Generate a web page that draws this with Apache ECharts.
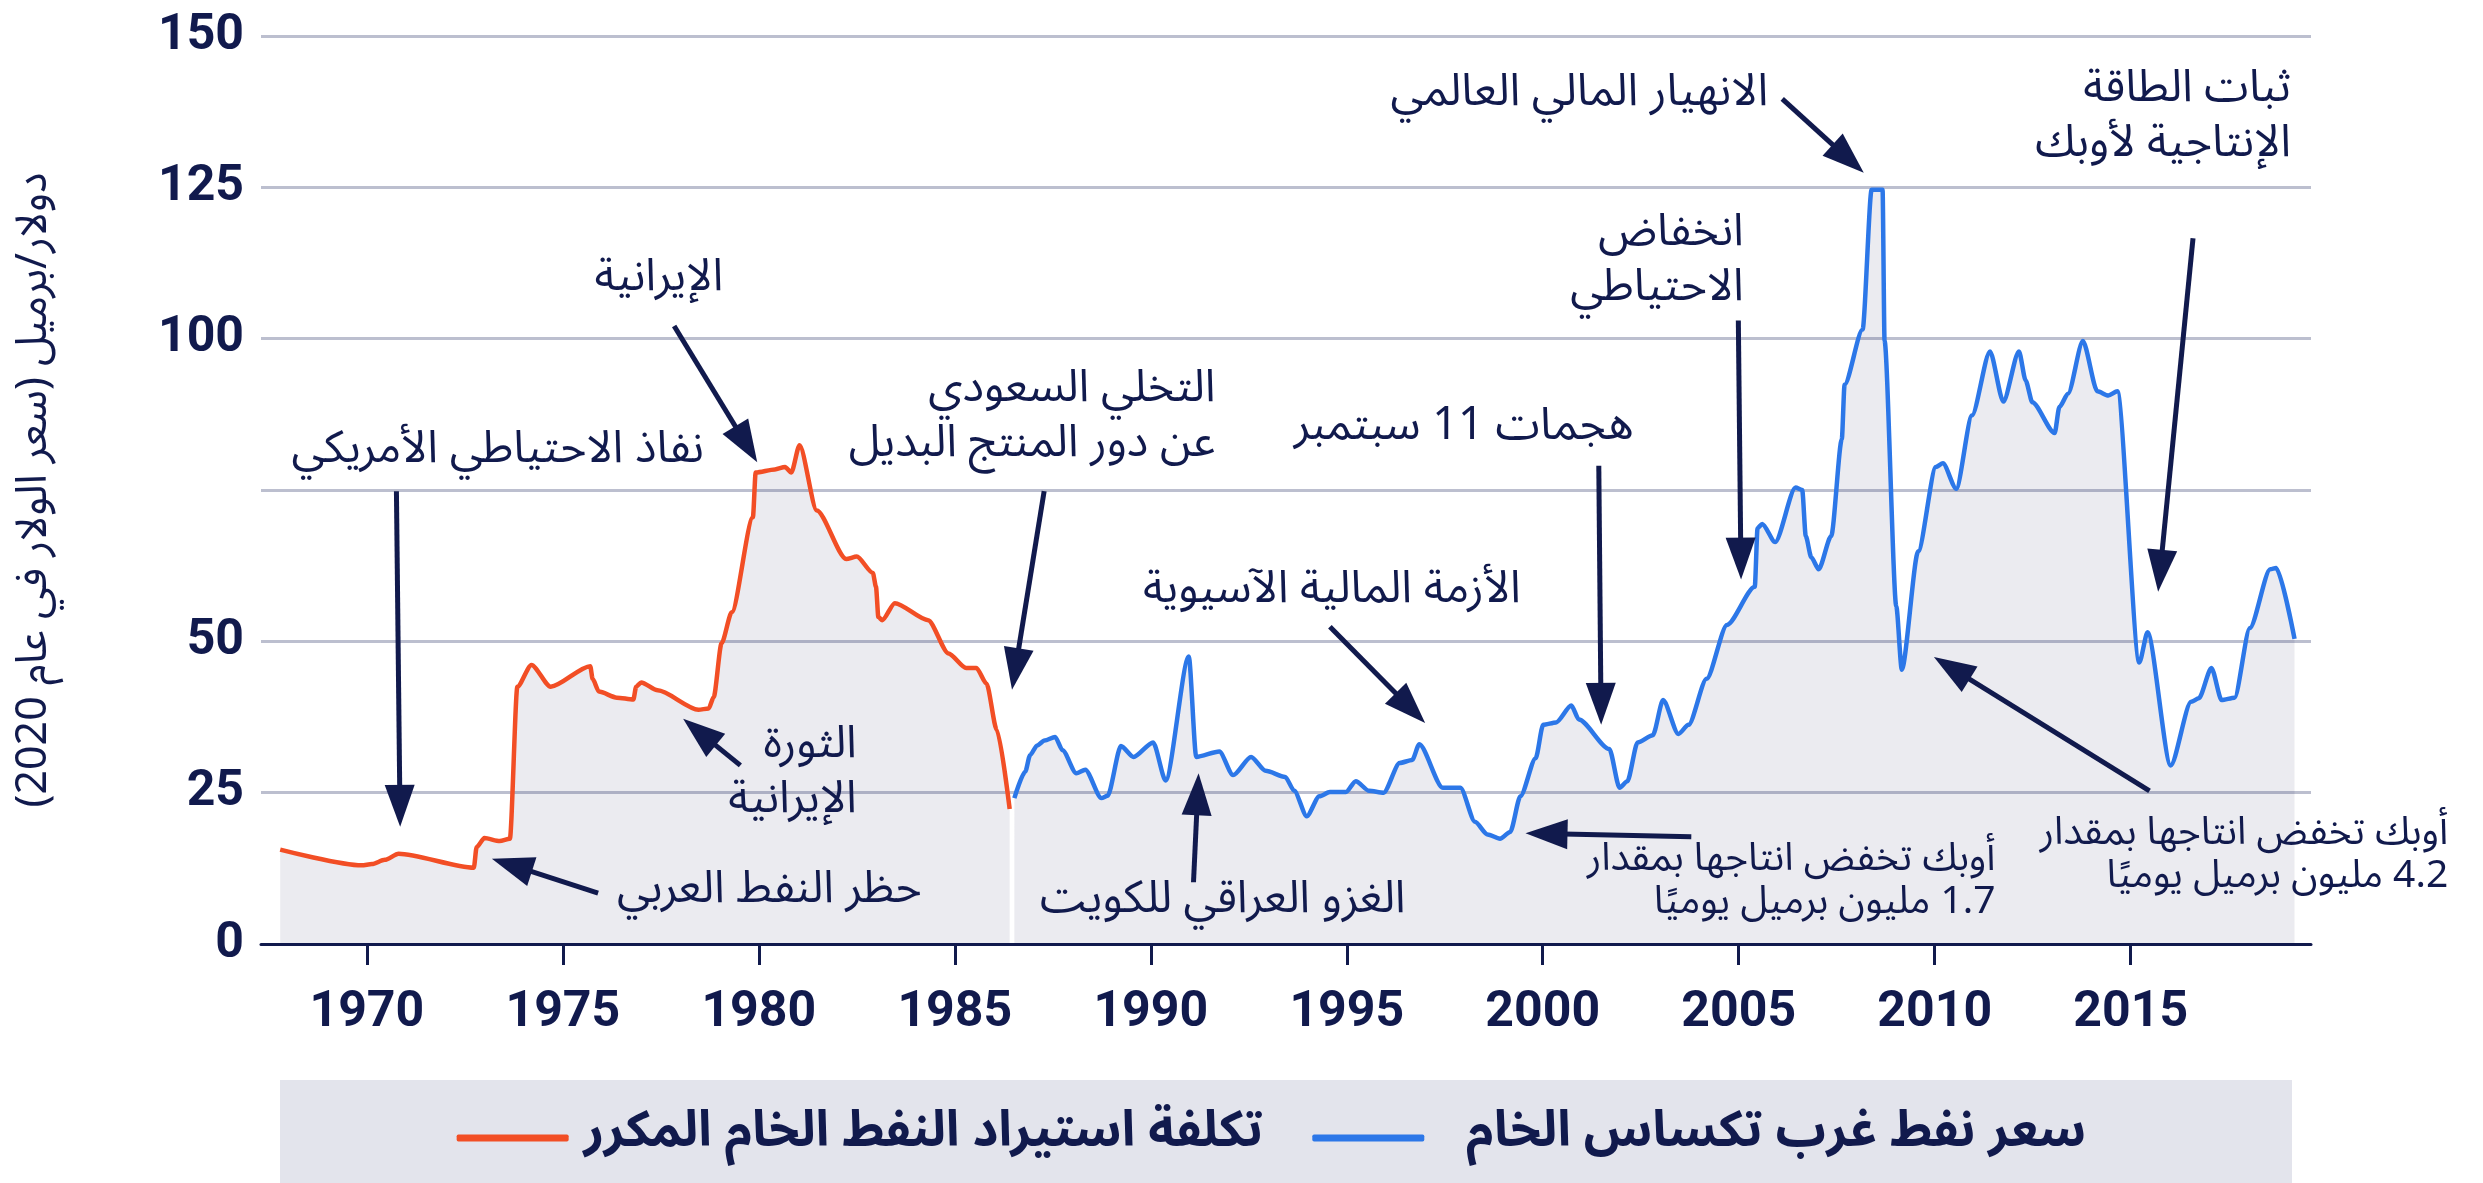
<!DOCTYPE html>
<html>
<head>
<meta charset="utf-8">
<script src="https://cdn.jsdelivr.net/npm/echarts@6/dist/echarts.min.js"></script>
<style>
html,body{margin:0;padding:0;background:#ffffff;}
#chart{width:2483px;height:1183px;}
</style>
</head>
<body>
<div id="chart" dir="rtl"></div>
<script>
// ---------- DATA ----------
const importYears = [1967.79, 1969.87, 1970.13, 1970.46, 1970.81, 1972.73, 1972.8, 1973.0, 1973.39, 1973.65,
  1973.84, 1974.2, 1974.69, 1975.7, 1975.76, 1975.92, 1976.38, 1976.8, 1976.87, 1977.0, 1977.42,
  1978.46, 1978.72, 1978.85, 1979.05, 1979.31, 1979.85, 1979.92, 1980.41, 1980.67, 1980.83, 1981.04,
  1981.48, 1982.23, 1982.5, 1982.91, 1982.99, 1983.05, 1983.15, 1983.47, 1984.32, 1984.84, 1985.29,
  1985.55, 1985.81, 1986.07, 1986.4];
const importValues = [15.6, 13.0, 13.2, 13.9, 14.9, 12.6, 16.0, 17.5, 17.0, 17.4,
  42.5, 46.1, 42.5, 45.9, 43.8, 41.7, 40.7, 40.4, 42.5, 43.2, 41.9,
  38.7, 38.9, 40.8, 49.7, 54.8, 70.5, 77.9, 78.4, 78.8, 77.9, 82.4,
  71.6, 63.6, 64.0, 61.3, 59.0, 54.0, 53.5, 56.3, 53.5, 48.0, 45.6,
  45.6, 43.0, 35.4, 22.3];

const wtiYears = [1986.52, 1986.8, 1986.92, 1987.1, 1987.29, 1987.56, 1987.75, 1988.1, 1988.33, 1988.74,
  1988.9, 1989.24, 1989.56, 1990.06, 1990.38, 1990.97, 1991.16, 1991.75, 1992.1, 1992.56,
  1992.93, 1993.43, 1993.66, 1993.98, 1994.3, 1994.57, 1994.98, 1995.23, 1995.57, 1995.94,
  1996.35, 1996.67, 1996.85, 1997.45, 1997.9, 1998.27, 1998.59, 1998.91, 1999.17, 1999.43,
  1999.82, 2000.01, 2000.34, 2000.73, 2000.92, 2001.7, 2001.96, 2002.16, 2002.42, 2002.81,
  2003.07, 2003.46, 2003.72, 2004.18, 2004.7, 2005.41, 2005.48, 2005.6, 2005.93, 2006.45,
  2006.62, 2006.71, 2006.85, 2007.04, 2007.36, 2007.63, 2007.7, 2008.16, 2008.39, 2008.67,
  2008.72, 2009.02, 2009.16, 2009.58, 2010.03, 2010.21, 2010.55, 2010.95, 2011.41, 2011.75,
  2012.15, 2012.32, 2012.49, 2013.06, 2013.18, 2013.4, 2013.78, 2014.15, 2014.43, 2014.66,
  2015.22, 2015.43, 2016.02, 2016.54, 2016.74, 2017.06, 2017.32, 2017.65, 2018.04, 2018.56,
  2018.71, 2019.18];
const wtiValues = [24.1, 28.5, 31.2, 32.8, 33.6, 34.2, 32.0, 28.2, 28.8, 24.1,
  24.5, 32.7, 30.9, 33.3, 27.0, 47.5, 30.9, 31.8, 27.9, 30.9,
  28.6, 27.6, 25.3, 21.1, 24.4, 25.1, 25.1, 26.9, 25.3, 25.0,
  29.9, 30.4, 33.0, 25.8, 25.8, 20.2, 18.1, 17.4, 18.5, 24.4,
  30.7, 36.2, 36.6, 39.4, 37.1, 32.2, 25.8, 26.9, 33.3, 34.5,
  40.3, 34.7, 36.2, 43.8, 52.7, 59.0, 68.7, 69.4, 66.4, 75.4,
  75.0, 67.4, 63.9, 61.9, 67.4, 83.4, 92.4, 101.5, 124.6, 124.6,
  99.7, 55.8, 45.3, 64.9, 78.8, 79.4, 75.2, 87.3, 97.9, 89.6,
  97.9, 93.1, 89.5, 84.4, 88.7, 90.9, 99.6, 91.3, 90.6, 91.3,
  46.5, 51.5, 29.5, 40.0, 40.6, 45.6, 40.3, 40.7, 52.2, 61.9,
  62.1, 50.4];

const xTickYears = [1970, 1975, 1980, 1985, 1990, 1995, 2000, 2005, 2010, 2015];
const yTickLabels = ['0', '25', '50', '', '100', '125', '150'];
const seriesNames = ['تكلفة استيراد النفط الخام المكرر', 'سعر نفط غرب تكساس الخام'];
const yAxisTitle = 'دولار/برميل (سعر الولار في عام 2020)';

// annotation texts, anchored at [year, value] (right edge / middle), arrows from -> to in data space
const annotationTexts = [
  'نفاذ الاحتياطي الأمريكي', 'الإيرانية', 'الثورة\nالإيرانية', 'حظر النفط العربي',
  'التخلي السعودي\nعن دور المنتج البديل', 'الغزو العراقي للكويت', 'الأزمة المالية الآسيوية',
  'هجمات 11 سبتمبر', 'أوبك تخفض انتاجها بمقدار\n1.7 مليون برميل يوميًا', 'انخفاض\nالاحتياطي',
  'الانهيار المالي العالمي', 'ثبات الطاقة\nالإنتاجية لأوبك', 'أوبك تخفض انتاجها بمقدار\n4.2 مليون برميل يوميًا'
];
const annotationAnchors = [
  [1978.6, 80.8], [1979.09, 109.2], [1982.5, 27.4], [1984.16, 8.1],
  [1991.65, 86.2], [1996.5, 6.4], [1999.44, 57.7],
  [2002.32, 84.6], [2011.55, 9.6], [2005.13, 112.0],
  [2005.75, 139.8], [2019.09, 135.8], [2023.1, 14.0]
];
const arrowStarts = [
  [1970.755, 74.8], [1977.84, 102.1], [1979.53, 29.5], [1975.9, 8.4],
  [1987.28, 74.8], [1991.09, 10.2], [1994.57, 52.4],
  [2001.43, 79.0], [2003.79, 17.7], [2004.99, 103.0],
  [2006.11, 139.6], [2016.59, 116.6], [2015.48, 25.3]
];
const arrowEnds = [
  [1970.85, 19.35], [1979.96, 79.6], [1978.07, 37.2], [1973.19, 14.1],
  [1986.46, 42.0], [1991.22, 28.2], [1997.0, 36.5],
  [2001.49, 36.2], [1999.56, 18.3], [2005.06, 60.2],
  [2008.19, 127.4], [2015.7, 58.2], [2009.98, 47.4]
];
const smallAnnotation = [false, false, false, false, false, false, false, false, true, false, false, false, true];

// ---------- STYLE ----------
const NAVY = '#111a4d';
const RED = '#f24e25';
const BLUE = '#2c77e8';
const AREA = 'rgba(20,27,80,0.12)';
const NUM_FONT = 'Roboto, "Liberation Sans", sans-serif';
const AR_FONT = '"Noto Sans Arabic", "Noto Naskh Arabic", "DejaVu Sans", sans-serif';

const chart = echarts.init(document.getElementById('chart'), null, {renderer: 'canvas'});

const zip = (xs, ys) => xs.map((x, i) => [x, ys[i]]);

chart.setOption({
  animation: false,
  backgroundColor: '#ffffff',
  grid: {left: 261, right: 172, top: 36, bottom: 239, containLabel: false},
  xAxis: {
    type: 'value',
    min: 1967.3,
    max: 2019.6,
    axisLine: {show: true, onZero: false, lineStyle: {color: NAVY, width: 3}},
    axisTick: {show: true, customValues: xTickYears, length: 21, lineStyle: {color: NAVY, width: 3}},
    axisLabel: {
      show: true, customValues: xTickYears, margin: 44,
      color: NAVY, fontSize: 50, fontWeight: 'bold', fontFamily: NUM_FONT,
      formatter: (v) => String(Math.round(v))
    },
    splitLine: {show: false}
  },
  yAxis: {
    type: 'value',
    min: 0, max: 150, interval: 25,
    axisLine: {show: false},
    axisTick: {show: false},
    axisLabel: {
      margin: 17, color: NAVY, fontSize: 50, fontWeight: 'bold', fontFamily: NUM_FONT,
      formatter: (v) => yTickLabels[Math.round(v / 25)]
    },
    splitLine: {show: true, lineStyle: {color: '#bcbfcf', width: 3}},
    name: yAxisTitle,
    nameLocation: 'middle',
    nameRotate: 90,
    nameGap: 200,
    nameTextStyle: {color: NAVY, fontSize: 43, fontFamily: AR_FONT}
  },
  legend: [
    {
      data: [seriesNames[0]], right: 2483 - 1268, top: 1108,
      icon: 'roundRect', itemWidth: 112, itemHeight: 7,
      textStyle: {color: NAVY, fontSize: 50, fontWeight: 'bold', fontFamily: AR_FONT, padding: [0, 0, 0, 10]}
    },
    {
      data: [seriesNames[1]], right: 2483 - 2091, top: 1108,
      icon: 'roundRect', itemWidth: 112, itemHeight: 7,
      textStyle: {color: NAVY, fontSize: 50, fontWeight: 'bold', fontFamily: AR_FONT, padding: [0, 0, 0, 37]}
    }
  ],
  series: [
    {
      name: seriesNames[0], type: 'line', data: zip(importYears, importValues),
      showSymbol: false, smooth: 0.25, smoothMonotone: 'x',
      lineStyle: {color: RED, width: 4.5}, itemStyle: {color: RED},
      areaStyle: {color: AREA}, z: 3
    },
    {
      name: seriesNames[1], type: 'line', data: zip(wtiYears, wtiValues),
      showSymbol: false, smooth: 0.25, smoothMonotone: 'x',
      lineStyle: {color: BLUE, width: 4.5}, itemStyle: {color: BLUE},
      areaStyle: {color: AREA}, z: 3
    }
  ]
});

// ---------- ANNOTATIONS (placed through the axes) ----------
const toPx = (p) => chart.convertToPixel({xAxisIndex: 0, yAxisIndex: 0}, p);
const graphics = [];
// legend background band
graphics.push({type: 'rect', z: -10, silent: true,
  shape: {x: 280, y: 1080, width: 2012, height: 103}, style: {fill: '#e3e4ec'}});

annotationTexts.forEach((txt, i) => {
  const a = toPx(annotationAnchors[i]);
  const small = smallAnnotation[i];
  graphics.push({
    type: 'text', z: 50, silent: true,
    style: {
      text: txt, x: a[0], y: a[1], fill: NAVY,
      fontSize: small ? 39 : 45, fontFamily: AR_FONT,
      align: 'right', verticalAlign: 'middle',
      lineHeight: small ? 43 : 55
    }
  });
  const s = toPx(arrowStarts[i]);
  const e = toPx(arrowEnds[i]);
  const dx = e[0] - s[0], dy = e[1] - s[1];
  const len = Math.sqrt(dx * dx + dy * dy);
  const ux = dx / len, uy = dy / len;
  const headL = 42, headW = 15;
  const bx = e[0] - ux * headL, by = e[1] - uy * headL;
  graphics.push({
    type: 'line', z: 50, silent: true,
    shape: {x1: s[0], y1: s[1], x2: bx + ux * 4, y2: by + uy * 4},
    style: {stroke: NAVY, lineWidth: 5}
  });
  graphics.push({
    type: 'polygon', z: 50, silent: true,
    shape: {points: [[e[0], e[1]], [bx - uy * headW, by + ux * headW], [bx + uy * headW, by - ux * headW]]},
    style: {fill: NAVY}
  });
});
chart.setOption({graphic: graphics});
</script>
</body>
</html>
